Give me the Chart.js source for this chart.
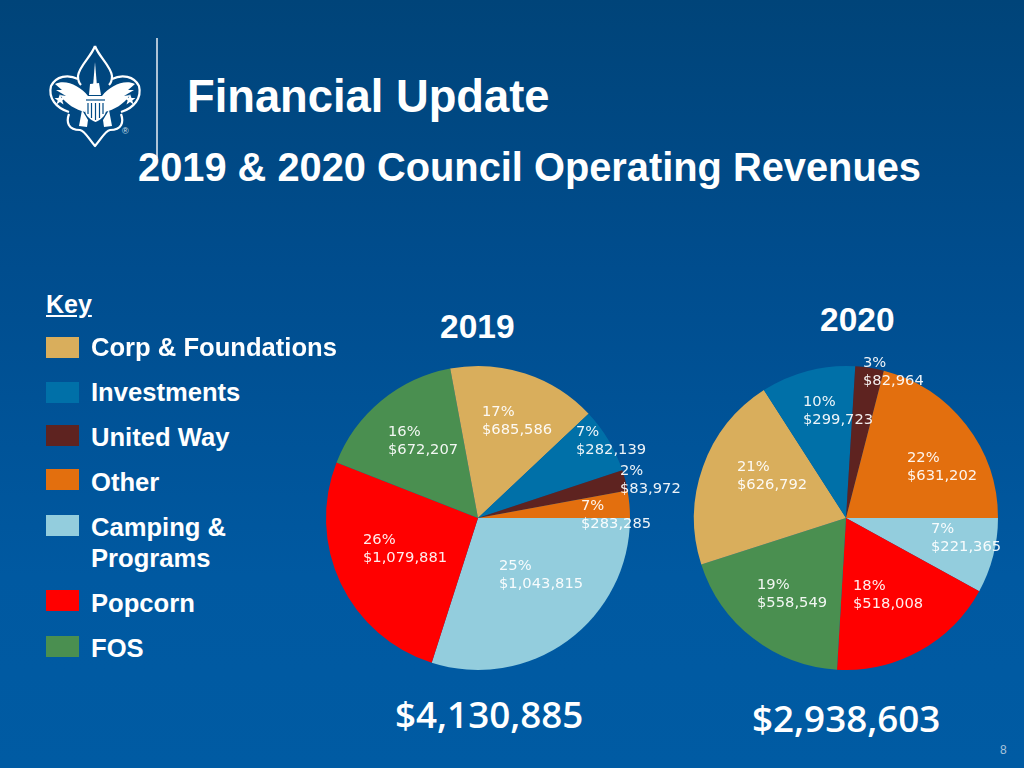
<!DOCTYPE html>
<html>
<head>
<meta charset="utf-8">
<script src="https://cdn.jsdelivr.net/npm/chart.js@4"></script>
<style>
  html, body { margin: 0; padding: 0; overflow: hidden; }
  body { width: 1024px; height: 768px; position: relative; color: #fff;
    font-family: "Liberation Sans", Arial, sans-serif; font-weight: bold;
    background: linear-gradient(180deg, #004479 0%, #004d8e 35%, #0059a1 75%, #005ba3 100%); }
  .t { position: absolute; white-space: nowrap; line-height: 1; }
  .box { position: absolute; left: 46px; width: 33px; height: 21px; }
  canvas { position: absolute; }
  #logo { position: absolute; left: 0; top: 0; }
</style>
</head>
<body>
<svg id="logo" width="170" height="170" viewBox="0 0 170 170">
  <line x1="157" y1="38" x2="157" y2="158" stroke="#e8eef5" stroke-width="1.5"/>
  <g fill="none" stroke="#fff" stroke-width="2.2" stroke-linejoin="round">
    <path d="M95 46 C99 57 111 66 112 76 C112 80 111 83 109 85 M95 46 C91 57 79 66 78 76 C78 80 79 83 81 85"/>
    <path d="M112 79 C122 74 134 76 139 86 C142 98 134 108 121 112 M78 79 C68 74 56 76 51 86 C48 98 56 108 69 112"/>
    <path d="M121 114 C124 122 122 130 110 130 C105 131 102 138 95 146 C88 138 85 131 80 130 C68 130 66 122 69 114"/>
  </g>
  <g fill="#fff">
    <path d="M95 62 L96.8 84 L93.2 84 Z"/>
    <path d="M55 84 C66 79 80 86 88 96 L85 112 C76 110 66 104 60 95 L66 96 L56 90 L62 90 Z"/>
    <path d="M135 84 C124 79 110 86 102 96 L105 112 C114 110 124 104 130 95 L124 96 L134 90 L128 90 Z"/>
    <path d="M90 84 L99 83 L101 95 L89 95 Z"/>
    <path d="M85 96 L106 96 L106 110 C106 116 100 120 95.5 122 C91 120 85 116 85 110 Z"/>
    <path d="M82 110 L88 120 L87 127 L79 126 Z"/>
    <path d="M109 110 L103 120 L104 127 L112 126 Z"/>
    <path d="M60 94 L61.5 98 L65.5 98 L62.3 100.5 L63.5 104.5 L60 102 L56.5 104.5 L57.7 100.5 L54.5 98 L58.5 98 Z"/>
    <path d="M130 94 L131.5 98 L135.5 98 L132.3 100.5 L133.5 104.5 L130 102 L126.5 104.5 L127.7 100.5 L124.5 98 L128.5 98 Z"/>
  </g>
  <g stroke="#004a85" stroke-width="1.2">
    <line x1="88" y1="103" x2="88" y2="114"/><line x1="91.5" y1="103" x2="91.5" y2="118"/>
    <line x1="95.5" y1="103" x2="95.5" y2="120"/><line x1="99.5" y1="103" x2="99.5" y2="118"/>
    <line x1="103" y1="103" x2="103" y2="114"/>
    <line x1="86" y1="100" x2="105" y2="100"/>
  </g>
  <text x="122" y="134" font-size="9" fill="#cfe0ee" font-weight="normal" font-family="Liberation Sans">®</text>
</svg>

<div class="t" style="left:187px;top:74px;font-size:45.3px">Financial Update</div>
<div class="t" style="left:138px;top:148px;font-size:39.8px">2019 &amp; 2020 Council Operating Revenues</div>
<div class="t" style="left:46px;top:292px;font-size:25px;text-decoration:underline">Key</div>
<div class="t" style="left:440px;top:310px;font-size:33.5px">2019</div>
<div class="t" style="left:820px;top:303px;font-size:33.5px">2020</div>
<div class="t" style="left:395px;top:696px;font-size:36.8px;font-family:'Open Sans';font-weight:600">$4,130,885</div>
<div class="t" style="left:752px;top:700px;font-size:36.8px;font-family:'Open Sans';font-weight:600">$2,938,603</div>
<div class="t" style="left:1000px;top:744px;font-size:12px;font-weight:normal;color:#a9c4dc">8</div>

<canvas id="pie2019" style="left:268px;top:308px"></canvas>
<canvas id="pie2020" style="left:668px;top:340px"></canvas>

<script>
const categories = ['Camping & Programs', 'Popcorn', 'FOS', 'Corp & Foundations', 'Investments', 'United Way', 'Other'];
const colors = ['#93cddd', '#ff0000', '#4a8f50', '#d9ae5c', '#0070a8', '#5e2320', '#e36f0e'];

// amounts and percents printed on the slices
const amounts2019 = [1043815, 1079881, 672207, 685586, 282139, 83972, 283285];
const percents2019 = [25, 26, 16, 17, 7, 2, 7];
const amounts2020 = [221365, 518008, 558549, 626792, 299723, 82964, 631202];
const percents2020 = [7, 18, 19, 21, 10, 3, 22];

// slice sizes as drawn in the picture, in degrees. they do not always agree
// with the printed amounts (2019 Camping and Other are the big ones)
const drawn2019 = [107.7, 93.7, 58, 57.2, 25, 7.9, 10.4];
const drawn2020 = [28.8, 64.6, 68.8, 75.1, 36.2, 10.9, 75.6];

const keyOrder = ['Corp & Foundations', 'Investments', 'United Way', 'Other', 'Camping & Programs', 'Popcorn', 'FOS'];
const keyBoxTops = [337, 382, 425, 469, 515, 590, 636];
const keyTextTops = [335, 380, 425, 470, 515, 591, 636];

// label offset from the pie centre (left edge, middle of first line)
const labelPos2019 = [[21, 47], [-115, 21], [-90, -87], [4, -107], [98, -87], [142, -48], [103, -13]];
const labelPos2020 = [[85, 10], [7, 67], [-89, 66], [-109, -52], [-43, -117], [17, -156], [61, -61]];

const money = v => '$' + v.toLocaleString('en-US');

// Key on the left
keyOrder.forEach((name, i) => {
  const box = document.createElement('div');
  box.className = 'box';
  box.style.top = keyBoxTops[i] + 'px';
  box.style.background = colors[categories.indexOf(name)];
  document.body.appendChild(box);

  const parts = name === 'Camping & Programs' ? ['Camping &', 'Programs'] : [name];
  parts.forEach((part, j) => {
    const t = document.createElement('div');
    t.className = 't';
    t.style.left = '91px';
    t.style.top = (keyTextTops[i] + j * 31) + 'px';
    t.style.fontSize = '25.6px';
    t.textContent = part;
    document.body.appendChild(t);
  });
});

// writes the two line label next to each slice
const sliceLabels = {
  id: 'sliceLabels',
  afterDatasetsDraw(chart, args, opts) {
    const ctx = chart.ctx;
    ctx.save();
    ctx.font = '14.7px "DejaVu Sans"';
    ctx.fillStyle = 'rgba(255,255,255,0.93)';
    ctx.textBaseline = 'middle';
    chart.getDatasetMeta(0).data.forEach((arc, i) => {
      const x = arc.x + opts.pos[i][0];
      const y = arc.y + opts.pos[i][1] + 1;
      ctx.fillText(opts.percents[i] + '%', x, y);
      ctx.fillText(money(opts.amounts[i]), x, y + 18);
    });
    ctx.restore();
  }
};

// Function to Create a PIE Chart
function pie_chart(canvas, size, padding, drawn, amounts, percents, pos) {
  const el = document.getElementById(canvas);
  el.style.width = size + 'px';
  el.style.height = size + 'px';
  new Chart(el, {
    type: 'pie',
    data: {
      labels: categories,
      datasets: [{ data: drawn, backgroundColor: colors, borderWidth: 0 }]
    },
    options: {
      responsive: false,
      animation: false,
      rotation: 90,
      layout: { padding: padding },
      plugins: {
        legend: { display: false },
        tooltip: { enabled: false },
        sliceLabels: { amounts: amounts, percents: percents, pos: pos }
      }
    },
    plugins: [sliceLabels]
  });
}

pie_chart('pie2019', 420, 58, drawn2019, amounts2019, percents2019, labelPos2019);
pie_chart('pie2020', 356, 26, drawn2020, amounts2020, percents2020, labelPos2020);
</script>
</body>
</html>
